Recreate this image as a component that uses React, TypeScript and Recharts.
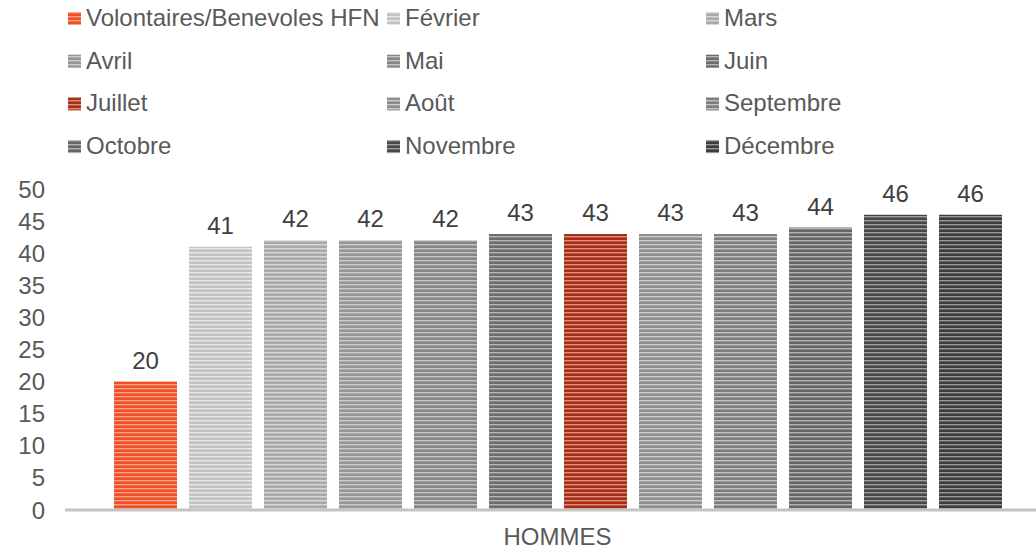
import { Bar, BarChart, LabelList, Legend, XAxis, YAxis } from "recharts";

const categories = ["HOMMES"];
const seriesNames = [
  "Volontaires/Benevoles HFN",
  "Février",
  "Mars",
  "Avril",
  "Mai",
  "Juin",
  "Juillet",
  "Août",
  "Septembre",
  "Octobre",
  "Novembre",
  "Décembre",
];
const hommesValues = [20, 41, 42, 42, 42, 43, 43, 43, 43, 44, 46, 46];
const yTicks = [0, 5, 10, 15, 20, 25, 30, 35, 40, 45, 50];

// base / stripe colour for each series
const baseColors = ["#f04e25", "#c2c2c2", "#a9a9a9", "#969696", "#868686", "#6c6c6c", "#a52e17", "#8e8e8e", "#7e7e7e", "#666666", "#474747", "#3c3c3c"];
const stripeColors = ["#f9a184", "#e8e8e8", "#d8d8d8", "#cdcdcd", "#c4c4c4", "#b4b4b4", "#de8d7c", "#cbcbcb", "#c2c2c2", "#b3b3b3", "#9f9f9f", "#989898"];

const data = categories.map((name, c) => {
  const row: Record<string, string | number> = { name };
  seriesNames.forEach((_, i) => {
    row[`s${i}`] = c === 0 ? hommesValues[i] : 0;
  });
  return row;
});

const font = '"Liberation Sans", Arial, sans-serif';
const textColor = "#595959";

function Patterns({ prefix }: { prefix: string }) {
  return (
    <defs>
      {baseColors.map((col, i) => (
        <pattern key={i} id={`${prefix}${i}`} width="8" height="4" patternUnits="userSpaceOnUse">
          <rect width="8" height="4" fill={col} />
          <rect y="0" width="8" height="1.4" fill={stripeColors[i]} />
        </pattern>
      ))}
    </defs>
  );
}

const colX = [68, 387, 706];

function ChartLegend() {
  return (
    <svg width={1036} height={170} style={{ display: "block" }}>
      <Patterns prefix="lg" />
      {seriesNames.map((n, i) => {
        const r = Math.floor(i / 3);
        const c = i % 3;
        const base = 26 + r * 42.7;
        return (
          <g key={n}>
            <rect x={colX[c]} y={base - 14} width={13} height={13} fill={`url(#lg${i})`} />
            <text x={colX[c] + 18} y={base} fontSize={24} fill={textColor} fontFamily={font}>
              {n}
            </text>
          </g>
        );
      })}
    </svg>
  );
}

export default function App() {
  return (
    <div style={{ position: "absolute", left: 0, top: 0, width: 1036, height: 552, overflow: "hidden", background: "#fff" }}>
      <BarChart
        width={1050}
        height={552}
        data={data}
        margin={{ top: 19, right: 0, left: 0, bottom: 0 }}
        barGap={12}
        style={{ fontFamily: font }}
      >
        <Patterns prefix="pat" />
        <Legend
          verticalAlign="top"
          content={() => <ChartLegend />}
          wrapperStyle={{ top: 0, left: 0, width: 1036, height: 170 }}
        />
        <XAxis
          dataKey="name"
          height={42}
          axisLine={{ stroke: "#c4c4c4", strokeWidth: 3 }}
          tickLine={false}
          tickMargin={12}
          tick={{ fill: textColor, fontSize: 24, fontFamily: font }}
        />
        <YAxis
          width={65}
          domain={[0, 50]}
          ticks={yTicks}
          axisLine={false}
          tickLine={false}
          tickMargin={14}
          interval={0}
          tick={{ fill: textColor, fontSize: 24, fontFamily: font }}
        />
        {seriesNames.map((n, i) => (
          <Bar key={n} dataKey={`s${i}`} name={n} fill={`url(#pat${i})`} barSize={63} isAnimationActive={false}>
            <LabelList dataKey={`s${i}`} position="top" offset={13} fill="#404040" fontSize={24} fontFamily={font} />
          </Bar>
        ))}
      </BarChart>
    </div>
  );
}
